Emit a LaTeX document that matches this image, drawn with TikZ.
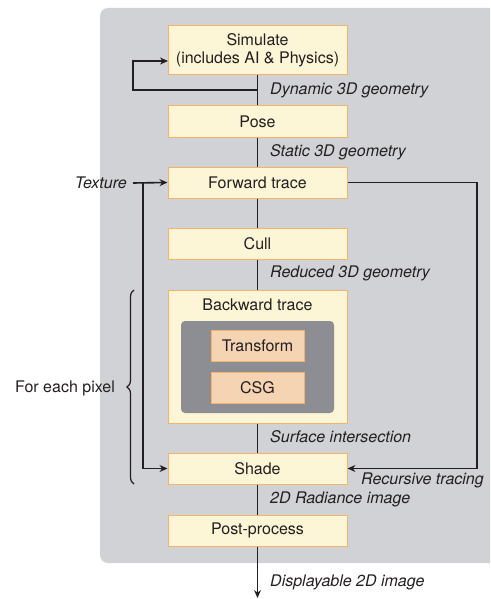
\documentclass[tikz,border=0pt]{standalone}
\usepackage{fontspec}
\setmainfont{TeX Gyre Heros}
\usetikzlibrary{arrows.meta, decorations.pathreplacing}

\definecolor{panelgray}{HTML}{D1D2D6}
\definecolor{innergray}{HTML}{8D8E93}
\definecolor{stagefill}{HTML}{FCF5D6}
\definecolor{stageline}{HTML}{F3B36B}
\definecolor{subfill}{HTML}{F5D4B3}
\definecolor{ink}{HTML}{231F20}

\newcommand{\diagfont}{\fontsize{16}{18.5}\selectfont}

\tikzset{
  stagebox/.style={draw=stageline, fill=stagefill, line width=1pt, minimum width=179pt,
    minimum height=31pt, align=center, text=ink, inner sep=0pt},
  subbox/.style={draw=stageline, fill=subfill, line width=1pt, minimum width=93pt,
    minimum height=31pt, text=ink, inner sep=0pt},
  flow/.style={line width=1.6pt, draw=ink},
  flowarrow/.style={flow, -{Stealth[length=8pt, width=7pt]}},
  datalabel/.style={anchor=west, font=\diagfont\itshape, text=ink, inner sep=0pt},
}

\begin{document}
\begin{tikzpicture}[x=1pt, y=-1pt, font=\diagfont]

  \clip (0,0) rectangle (490,599);

  % Gray panel
  \fill[panelgray, rounded corners=8pt] (100,8) rectangle (510,563);

  % Pipeline stages
  \node[stagebox, minimum height=49pt] (simulate) at (257.5,50.5) {Simulate\\(includes AI \& Physics)};
  \node[stagebox] (pose) at (257.5,121.5) {Pose};
  \node[stagebox] (fwdtrace) at (257.5,182.5) {Forward trace};
  \node[stagebox] (cull) at (257.5,244) {Cull};
  \node[stagebox, minimum height=133pt] (bwdtrace) at (257.5,356.5) {};
  \node[text=ink] (bwdtitle) at (257.5,305) {Backward trace};
  \fill[innergray, rounded corners=4pt] (181,321) rectangle (334,413);
  \node[subbox] (transform) at (257.5,346) {Transform};
  \node[subbox] (csg) at (257.5,387.5) {CSG};
  \node[stagebox] (shade) at (257.5,468.5) {Shade};
  \node[stagebox] (postproc) at (257.5,530.5) {Post-process};
  \coordinate (display) at (257.5,598);

  % Main flow
  \draw[flow] (simulate) -- (pose);
  \draw[flow] (pose) -- (fwdtrace);
  \draw[flow] (fwdtrace) -- (cull);
  \draw[flow] (cull) -- (bwdtrace);
  \draw[flow] (bwdtrace) -- (shade);
  \draw[flow] (shade) -- (postproc);
  \draw[flowarrow] (postproc) -- (display);

  % Simulation loop
  \coordinate (loopstart) at (257.5,90);
  \coordinate (loopend) at (168,61);
  \draw[flowarrow] (loopstart) -- (133,90) |- (loopend);

  % Texture input
  \node[datalabel, anchor=east] (texture) at (127,183) {Texture};
  \coordinate (texsplit) at (143,182.5);
  \draw[flowarrow] ([xshift=6pt]texture.east) -- (fwdtrace.west);
  \draw[flowarrow] (texsplit) |- (shade.west);

  % Recursive tracing
  \draw[flowarrow] (fwdtrace.east) -- (477,182.5) |- (shade.east);
  \node[datalabel] (recursive) at (361,480) {Recursive tracing};

  % Data labels
  \node[datalabel] (dynamic) at (270,90) {Dynamic 3D geometry};
  \node[datalabel] (static) at (270,152) {Static 3D geometry};
  \node[datalabel] (reduced) at (270,273) {Reduced 3D geometry};
  \node[datalabel] (surface) at (270,437) {Surface intersection};
  \node[datalabel] (radiance) at (270,499) {2D Radiance image};
  \node[datalabel] (displayable) at (270,582) {Displayable 2D image};

  % Per-pixel brace
  \draw[flow, line width=1.2pt, decorate, decoration={brace, amplitude=7pt}] (134,484) -- (134,290);
  \node[text=ink, anchor=east, inner sep=0pt] (perpixel) at (115,388) {For each pixel};

\end{tikzpicture}
\end{document}
